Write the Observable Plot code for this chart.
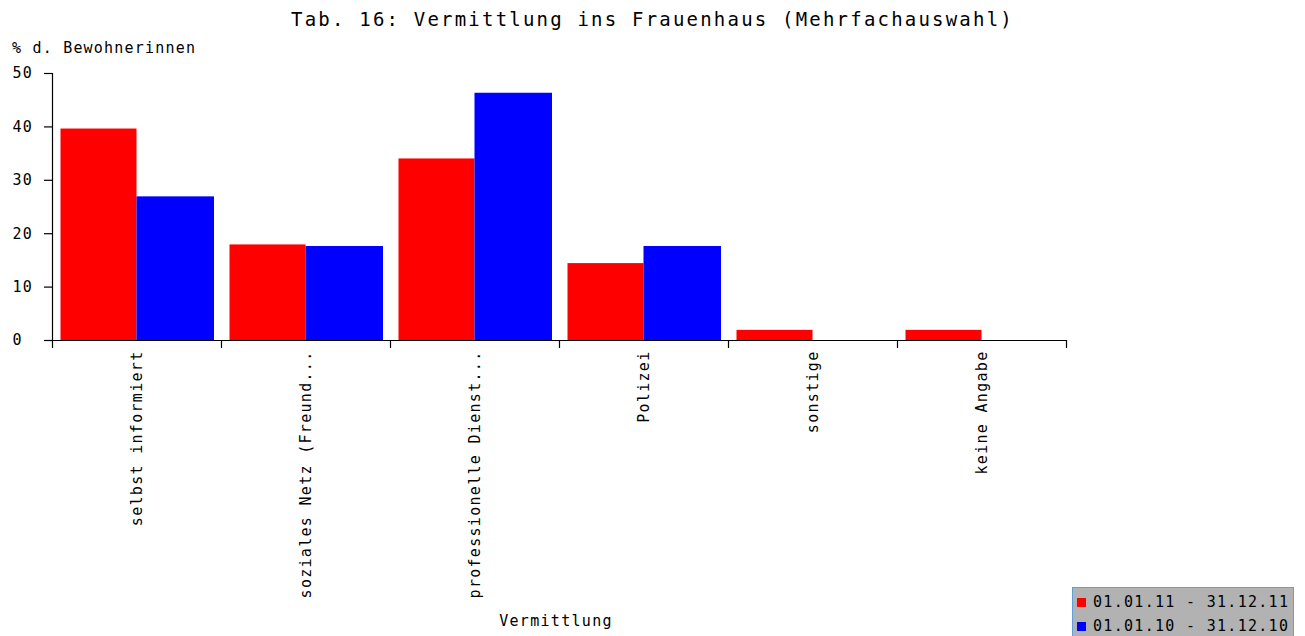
<!DOCTYPE html>
<html>
<head>
<meta charset="utf-8">
<script src="https://cdn.jsdelivr.net/npm/d3@7"></script>
<script src="https://cdn.jsdelivr.net/npm/@observablehq/plot@0.6"></script>
<style>
  html, body { margin: 0; padding: 0; background: #fff; }
  #wrap { position: relative; width: 1305px; height: 636px; overflow: hidden; font-family: "DejaVu Sans Mono", monospace; color: #000; }
  #chart { position: absolute; left: 0; top: 0; }
  .title { position: absolute; left: 0; width: 1305px; top: 8px; text-align: center; font-size: 19px; letter-spacing: 2.2px; }
  .ylab { position: absolute; left: 12px; top: 39px; font-size: 15px; letter-spacing: 1.2px; }
  .xlab { position: absolute; left: 0; width: 1112px; top: 612px; text-align: center; font-size: 15px; letter-spacing: 1.3px; }
  .legend { position: absolute; left: 1072px; top: 587px; width: 222px; height: 60px; background: #b2b2b2; border: 1px solid #5f9fe0; box-sizing: border-box; }
  .legend .row { position: absolute; left: 4px; font-size: 15px; letter-spacing: 1.3px; white-space: nowrap; }
  .legend .sw { display: inline-block; width: 9px; height: 9px; margin-right: 7px; vertical-align: 0px; }
</style>
</head>
<body>
<div id="wrap">
  <div id="chart"></div>
  <div class="title">Tab. 16: Vermittlung ins Frauenhaus (Mehrfachauswahl)</div>
  <div class="ylab">% d. Bewohnerinnen</div>
  <div class="xlab">Vermittlung</div>
  <div class="legend" id="legend"></div>
</div>
<script>
const categories = ["selbst informiert", "soziales Netz (Freund...", "professionelle Dienst...", "Polizei", "sonstige", "keine Angabe"];
const series = ["01.01.11 - 31.12.11", "01.01.10 - 31.12.10"];
const values2011 = [39.6, 17.9, 34.0, 14.4, 1.9, 1.9];
const values2010 = [26.9, 17.6, 46.3, 17.6, 0, 0];
const colors = ["#ff0000", "#0000ff"];
const yTicks = [0, 10, 20, 30, 40, 50];

const rows2011 = categories.map((c, i) => ({cat: c, i, value: values2011[i]}));
const rows2010 = categories.map((c, i) => ({cat: c, i, value: values2010[i]}));
const edges = d3.range(categories.length + 1);
const centers = categories.map((c, i) => i + 0.5);

const chart = Plot.plot({
  width: 1305,
  height: 636,
  marginTop: 73,
  marginBottom: 296,
  marginLeft: 52,
  marginRight: 239,
  style: {fontFamily: "DejaVu Sans Mono, monospace", fontSize: "15px", letterSpacing: "1.3px", color: "#000", background: "transparent", overflow: "visible"},
  x: {domain: [0, categories.length], label: null},
  y: {domain: [0, 50], label: null},
  marks: [
    Plot.rectY(rows2011, {x1: d => d.i, x2: d => d.i + 0.5, y: "value", fill: colors[0], insetLeft: 8.5, insetRight: 0}),
    Plot.rectY(rows2010.filter(d => d.value > 0), {x1: d => d.i + 0.5, x2: d => d.i + 1, y: "value", fill: colors[1], insetLeft: 0, insetRight: 7}),
    Plot.ruleX([0], {stroke: "#000", strokeWidth: 1.2}),
    Plot.ruleY([0], {stroke: "#000", strokeWidth: 1.2}),
    Plot.axisY({ticks: yTicks, tickSize: 8, tickPadding: 32, textAnchor: "start", label: null, stroke: "#000", strokeWidth: 1.2, fill: "#000"}),
    Plot.axisX({ticks: edges, tickSize: 8, tickFormat: () => "", label: null, stroke: "#000", strokeWidth: 1.2}),
    Plot.axisX({ticks: centers, tickSize: 0, tickPadding: 10, tickRotate: -90, tickFormat: d => categories[Math.floor(d)], label: null, fill: "#000"})
  ]
});
document.getElementById("chart").appendChild(chart);

const legend = document.getElementById("legend");
series.forEach((s, k) => {
  const row = document.createElement("div");
  row.className = "row";
  row.style.top = (5 + k * 24) + "px";
  const sw = document.createElement("span");
  sw.className = "sw";
  sw.style.background = colors[k];
  row.appendChild(sw);
  row.appendChild(document.createTextNode(s));
  legend.appendChild(row);
});
</script>
</body>
</html>
